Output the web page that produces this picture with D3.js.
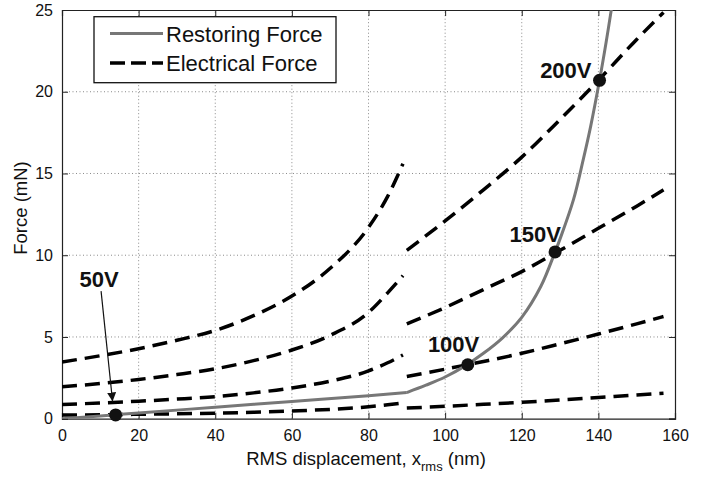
<!DOCTYPE html>
<html><head><meta charset="utf-8">
<script src="https://cdn.jsdelivr.net/npm/d3@7"></script>
<style>
body{margin:0;background:#fff;}
text{font-family:"Liberation Sans",Arial,Helvetica,sans-serif;}
</style></head>
<body><svg id="c" width="715" height="477"></svg>
<script>
// ---- data ----
const xTicks = [0,20,40,60,80,100,120,140,160];
const yTicks = [0,5,10,15,20,25];

const xLeft  = [0,10,20,30,40,50,60,70,80,85,89];
const e200L  = [3.47,3.85,4.28,4.8,5.4,6.3,7.5,9.2,11.7,13.6,15.6];
const e150L  = [1.95,2.15,2.4,2.7,3.05,3.55,4.2,5.1,6.5,7.7,8.75];
const e100L  = [0.87,0.96,1.07,1.2,1.35,1.58,1.88,2.3,2.92,3.42,3.9];
const e50L   = [0.22,0.24,0.27,0.3,0.34,0.39,0.47,0.57,0.73,0.85,0.97];

const xRight = [90,100,110,120,130,140,150,157];
const e200R  = [10.3,12.1,14.0,16.0,18.3,20.7,23.2,24.85];
const e150R  = [5.8,6.8,7.9,9.0,10.3,11.65,13.0,14.0];
const e100R  = [2.58,3.03,3.5,4.0,4.58,5.18,5.8,6.25];
const e50R   = [0.65,0.76,0.88,1.0,1.15,1.3,1.45,1.55];

const xRestA = [0,10,20,40,60,80,90];
const fRestA = [0,0.17,0.35,0.7,1.05,1.4,1.6];
const xRestB = [90,95,100,105,110,115,120,125,128.7,130,133.5,136,138,140.3,142,143.5];
const fRestB = [1.6,2.05,2.55,3.2,4.0,4.95,6.2,8.1,10.2,11.0,13.4,15.8,17.9,20.7,23.0,25.2];

const opLabels = ["50V","100V","150V","200V"];
const opX      = [14.0,105.9,128.7,140.3];
const opY      = [0.23,3.3,10.2,20.7];

// ---- layout ----
const svg = d3.select("#c");
const W=715,H=477, m={l:62,t:10,r:40,b:58.3};
const x = d3.scaleLinear().domain([0,160]).range([m.l, W-m.r]);
const y = d3.scaleLinear().domain([0,25]).range([H-m.b, m.t]);

svg.append("rect").attr("width",W).attr("height",H).attr("fill","#fff");
const defs = svg.append("defs");
defs.append("clipPath").attr("id","clip")
  .append("rect").attr("x",x(0)).attr("y",y(25)).attr("width",x(160)-x(0)).attr("height",y(0)-y(25));

// grid
const g = svg.append("g");
g.selectAll(".gx").data(xTicks.slice(1,-1)).enter().append("line")
  .attr("x1",d=>x(d)).attr("x2",d=>x(d)).attr("y1",y(0)).attr("y2",y(25))
  .attr("stroke","#8a8a8a").attr("stroke-width",1).attr("stroke-dasharray","1,2.5");
g.selectAll(".gy").data(yTicks.slice(1,-1)).enter().append("line")
  .attr("y1",d=>y(d)).attr("y2",d=>y(d)).attr("x1",x(0)).attr("x2",x(160))
  .attr("stroke","#8a8a8a").attr("stroke-width",1).attr("stroke-dasharray","1,2.5");

// axes with inward ticks on all sides
const fmt = d3.format("d");
const axB = svg.append("g").attr("transform",`translate(0,${y(0)})`)
  .call(d3.axisBottom(x).tickValues(xTicks).tickSize(-6).tickPadding(11).tickFormat(fmt));
const axT = svg.append("g").attr("transform",`translate(0,${y(25)})`)
  .call(d3.axisTop(x).tickValues(xTicks).tickSize(-6).tickFormat(""));
const axL = svg.append("g").attr("transform",`translate(${x(0)},0)`)
  .call(d3.axisLeft(y).tickValues(yTicks).tickSize(-6).tickPadding(9).tickFormat(fmt));
const axR = svg.append("g").attr("transform",`translate(${x(160)},0)`)
  .call(d3.axisRight(y).tickValues(yTicks).tickSize(-6).tickFormat(""));
[axB,axT,axL,axR].forEach(a=>{
  a.select(".domain").attr("stroke","#222").attr("stroke-width",1.2);
  a.selectAll(".tick line").attr("stroke","#222").attr("stroke-width",1);
  a.selectAll("text").attr("font-size",16).attr("fill","#111")
   .style("font-family",'"Liberation Sans",Arial,sans-serif');
});

// curves
const plot = svg.append("g").attr("clip-path","url(#clip)");
const line = d3.line().x(d=>x(d[0])).y(d=>y(d[1])).curve(d3.curveMonotoneX);
const smooth = d3.line().x(d=>x(d[0])).y(d=>y(d[1])).curve(d3.curveCatmullRom.alpha(0.5));
const elecSeries = [
  [xLeft,e200L],[xLeft,e150L],[xLeft,e100L],[xLeft,e50L],
  [xRight,e200R],[xRight,e150R],[xRight,e100R],[xRight,e50R]
];
elecSeries.forEach(([xs,ys])=>{
  plot.append("path").datum(xs.map((v,i)=>[v,ys[i]]))
    .attr("d",line).attr("fill","none").attr("stroke","#000")
    .attr("stroke-width",3.5).attr("stroke-dasharray","15,8");
});
plot.append("path").datum(xRestA.map((v,i)=>[v,fRestA[i]]))
  .attr("d",line).attr("fill","none").attr("stroke","#777").attr("stroke-width",3);
plot.append("path").datum(xRestB.map((v,i)=>[v,fRestB[i]]))
  .attr("d",smooth).attr("fill","none").attr("stroke","#777").attr("stroke-width",3);

// operating points
svg.selectAll(".dot").data(opX).enter().append("circle")
  .attr("cx",d=>x(d)).attr("cy",(d,i)=>y(opY[i])).attr("r",6.5).attr("fill","#111");

// labels (bold) positioned in data units
const lblX = [4.6,95.5,116.8,124.8];
const lblY = [8.05,4.09,10.83,20.83];
svg.selectAll(".lbl").data(opLabels).enter().append("text")
  .attr("x",(d,i)=>x(lblX[i])).attr("y",(d,i)=>y(lblY[i]))
  .attr("font-size",22).attr("font-weight","bold").attr("fill","#111").text(d=>d);

// arrow for 50V
defs.append("marker").attr("id","arr").attr("viewBox","0 0 10 10").attr("refX",10).attr("refY",5)
  .attr("markerWidth",9).attr("markerHeight",9).attr("markerUnits","userSpaceOnUse").attr("orient","auto")
  .append("path").attr("d","M0,0 L10,5 L0,10 z").attr("fill","#111");
svg.append("line").attr("x1",x(10.2)).attr("y1",y(7.8)).attr("x2",x(13.2)).attr("y2",y(1.05))
  .attr("stroke","#111").attr("stroke-width",1.2).attr("marker-end","url(#arr)");

// legend
const lg = svg.append("g");
lg.append("rect").attr("x",94).attr("y",16.7).attr("width",242).attr("height",66)
  .attr("fill","#fff").attr("stroke","#111").attr("stroke-width",1.3);
lg.append("line").attr("x1",110).attr("x2",163).attr("y1",33.5).attr("y2",33.5)
  .attr("stroke","#777").attr("stroke-width",3);
lg.append("line").attr("x1",110).attr("x2",163).attr("y1",63).attr("y2",63)
  .attr("stroke","#000").attr("stroke-width",3.5).attr("stroke-dasharray","15,6");
lg.append("text").attr("x",166).attr("y",41.5).attr("font-size",22).attr("fill","#111").text("Restoring Force");
lg.append("text").attr("x",166).attr("y",70.5).attr("font-size",22).attr("fill","#111").text("Electrical Force");

// axis titles
const xt = svg.append("text").attr("x",366).attr("y",465).attr("text-anchor","middle")
  .attr("font-size",18.5).attr("fill","#111");
xt.append("tspan").text("RMS displacement, x");
xt.append("tspan").attr("dy",6).attr("font-size",13).text("rms");
xt.append("tspan").attr("dy",-6).text(" (nm)");
svg.append("text").attr("transform","translate(27,208) rotate(-90)").attr("text-anchor","middle")
  .attr("font-size",18.5).attr("fill","#111").text("Force (mN)");
</script></body></html>
